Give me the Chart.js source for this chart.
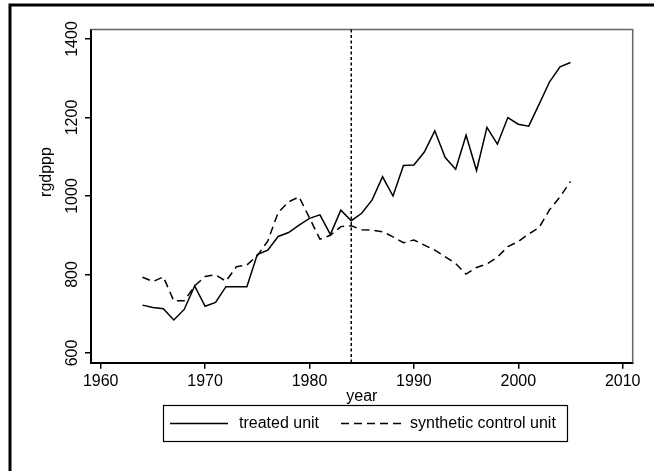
<!DOCTYPE html>
<html lang="en">
<head>
<meta charset="utf-8">
<title>rgdppp</title>
<script src="https://cdn.jsdelivr.net/npm/chart.js@4.4.1/dist/chart.umd.min.js"></script>
<style>
  html, body { margin: 0; padding: 0; background: #fff; }
  canvas { display: block; }
</style>
</head>
<body>
<canvas id="grafico" width="654" height="471"></canvas>
<script>
// === DADOS ===
const anos = [1964, 1965, 1966, 1967, 1968, 1969, 1970, 1971, 1972, 1973,
              1974, 1975, 1976, 1977, 1978, 1979, 1980, 1981, 1982, 1983,
              1984, 1985, 1986, 1987, 1988, 1989, 1990, 1991, 1992, 1993,
              1994, 1995, 1996, 1997, 1998, 1999, 2000, 2001, 2002, 2003,
              2004, 2005];
const tratado = [722, 716, 713, 684, 711, 771, 719, 729, 769, 769,
                 769, 851, 862, 897, 907, 926, 943, 952, 902, 964,
                 937, 956, 990, 1049, 1000, 1078, 1079, 1112, 1166, 1098,
                 1068, 1155, 1065, 1175, 1132, 1200, 1183, 1178, 1234, 1291,
                 1329, 1340];
const sintetico = [793, 782, 794, 733, 733, 771, 795, 799, 783, 820,
                   824, 848, 885, 958, 985, 998, 944, 890, 900, 922,
                   924, 914, 913, 909, 896, 881, 888, 875, 862, 845,
                   828, 801, 818, 827, 844, 871, 884, 903, 920, 965,
                   998, 1037];
const ticksX = [1960, 1970, 1980, 1990, 2000, 2010];
const ticksY = [600, 800, 1000, 1200, 1400];
const anoTratamento = 1984;
const nomesSeries = ['treated unit', 'synthetic control unit'];
const tituloX = 'year';
const tituloY = 'rgdppp';

const fonte = "'Liberation Sans', Helvetica, Arial, sans-serif";

// pares {x, y} para a escala linear
const pontos = valores => anos.map((ano, i) => ({ x: ano, y: valores[i] }));

// === MOLDURA, LINHA DO TRATAMENTO, TÍTULO Y E LEGENDA ===
const pluginMoldura = {
  id: 'moldura',
  beforeDraw(chart) {
    const ctx = chart.ctx;
    ctx.save();
    ctx.fillStyle = '#fff';
    ctx.fillRect(0, 0, chart.width, chart.height);
    ctx.strokeStyle = '#000';
    ctx.lineWidth = 3;
    ctx.strokeRect(10, 5, chart.width + 20, chart.height + 20);
    ctx.restore();
  },
  beforeDatasetsDraw(chart) {
    const { ctx, chartArea: a, scales } = chart;
    const x = scales.x.getPixelForValue(anoTratamento);
    ctx.save();
    // borda superior e direita da área do gráfico
    ctx.strokeStyle = '#666';
    ctx.lineWidth = 1.5;
    ctx.beginPath();
    ctx.moveTo(a.left, a.top);
    ctx.lineTo(a.right, a.top);
    ctx.lineTo(a.right, a.bottom);
    ctx.stroke();
    // linha vertical tracejada no ano do tratamento
    ctx.strokeStyle = '#000';
    ctx.setLineDash([3, 2.5]);
    ctx.beginPath();
    ctx.moveTo(x, a.top);
    ctx.lineTo(x, a.bottom);
    ctx.stroke();
    ctx.restore();
  },
  afterDraw(chart) {
    const ctx = chart.ctx;
    ctx.save();
    ctx.font = '16px ' + fonte;
    ctx.fillStyle = '#000';
    ctx.textAlign = 'center';
    ctx.textBaseline = 'middle';
    // título do eixo Y (girado)
    ctx.translate(47, 172);
    ctx.rotate(-Math.PI / 2);
    ctx.fillText(tituloY, 0, 0);
    ctx.setTransform(1, 0, 0, 1, 0, 0);

    // legenda em caixa
    const caixa = { x: 163.5, y: 405.5, w: 404, h: 36 };
    const meio = caixa.y + caixa.h / 2;
    const itens = [
      { x0: 170, x1: 228, tx: 239 },
      { x0: 341, x1: 404, tx: 410 }
    ];
    ctx.textAlign = 'left';
    ctx.strokeStyle = '#000';
    ctx.lineWidth = 1.2;
    ctx.strokeRect(caixa.x, caixa.y, caixa.w, caixa.h);
    chart.data.datasets.forEach((ds, i) => {
      const it = itens[i];
      ctx.lineWidth = ds.borderWidth;
      ctx.setLineDash(ds.borderDash || []);
      ctx.beginPath();
      ctx.moveTo(it.x0, meio);
      ctx.lineTo(it.x1, meio);
      ctx.stroke();
      ctx.fillText(ds.label, it.tx, meio);
    });
    ctx.restore();
  }
};

// === GRÁFICO ===
new Chart(document.getElementById('grafico'), {
  type: 'line',
  data: {
    datasets: [{
      label: nomesSeries[0],
      data: pontos(tratado),
      borderColor: '#000',
      borderWidth: 1.5,
      borderDash: []
    }, {
      label: nomesSeries[1],
      data: pontos(sintetico),
      borderColor: '#000',
      borderWidth: 1.5,
      borderDash: [8, 5]
    }]
  },
  options: {
    responsive: false,
    animation: false,
    devicePixelRatio: 1,
    layout: { padding: { left: 0, top: 29.5, right: 21.3, bottom: 0 } },
    elements: { point: { radius: 0 }, line: { tension: 0, fill: false } },
    scales: {
      x: {
        type: 'linear',
        min: 1959.07,
        max: 2010.96,
        afterBuildTicks: s => { s.ticks = ticksX.map(v => ({ value: v })); },
        afterFit: s => { s.height = 108.3; },
        ticks: { font: { family: fonte, size: 16 }, color: '#000', padding: 3,
                 maxRotation: 0, autoSkip: false, callback: v => String(v) },
        grid: { drawOnChartArea: false, drawTicks: true, tickLength: 6,
                color: '#000', lineWidth: 1.5 },
        border: { display: true, color: '#000', width: 2 },
        title: { display: true, text: tituloX, color: '#000',
                 font: { family: fonte, size: 16 }, padding: { top: 0, bottom: 64.4 } }
      },
      y: {
        min: 575.3,
        max: 1424.2,
        afterBuildTicks: s => { s.ticks = ticksY.map(v => ({ value: v })); },
        afterFit: s => { s.width = 91; },
        ticks: { font: { family: fonte, size: 16 }, color: '#000', padding: -5,
                 minRotation: 90, maxRotation: 90, crossAlign: 'center', autoSkip: false,
                 callback: v => String(v) },
        grid: { drawOnChartArea: false, drawTicks: true, tickLength: 6,
                color: '#000', lineWidth: 1.5 },
        border: { display: true, color: '#000', width: 2 }
      }
    },
    plugins: {
      legend: { display: false },
      tooltip: { enabled: false }
    }
  },
  plugins: [pluginMoldura]
});
</script>
</body>
</html>
